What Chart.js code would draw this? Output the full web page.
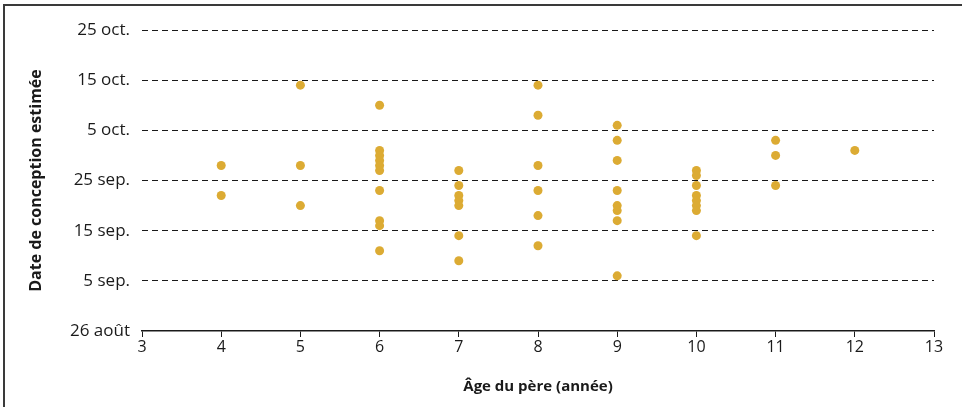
<!DOCTYPE html>
<html>
<head>
<meta charset="utf-8">
<script src="https://cdn.jsdelivr.net/npm/chart.js@4/dist/chart.umd.min.js"></script>
<style>
  html, body { margin: 0; padding: 0; background: #fff; }
  #wrap { position: relative; width: 970px; height: 407px; overflow: hidden; }
  #frame {
    position: absolute; left: 3px; top: 4px; width: 957px; height: 420px;
    border-top: 2px solid #3a3a3a; border-left: 2px solid #3a3a3a;
    pointer-events: none;
  }
  canvas { position: absolute; left: 0; top: 0; }
</style>
</head>
<body>
<div id="wrap">
  <canvas id="chart" width="970" height="407"></canvas>
  <div id="frame"></div>
</div>
<script>
// Day 0 = 26 août, one unit per day
const yTickLabels = ['26 août', '5 sep.', '15 sep.', '25 sep.', '5 oct.', '15 oct.', '25 oct.'];

const fatherAge = [
    4, 4,
    5, 5, 5,
    6, 6, 6, 6, 6, 6, 6, 6, 6, 6,
    7, 7, 7, 7, 7, 7, 7,
    8, 8, 8, 8, 8, 8,
    9, 9, 9, 9, 9, 9, 9, 9,
    10, 10, 10, 10, 10, 10, 10, 10,
    11, 11, 11,
    12
];
const conceptionDay = [
    33, 27,
    49, 33, 25,
    45, 36, 35, 34, 33, 32, 28, 22, 21, 16,
    32, 29, 27, 26, 25, 19, 14,
    49, 43, 33, 28, 23, 17,
    41, 38, 34, 28, 25, 24, 22, 11,
    32, 31, 29, 27, 26, 25, 24, 19,
    38, 35, 29,
    36
];

const points = fatherAge.map((age, i) => ({ x: age, y: conceptionDay[i] }));

const family = '"Open Sans", "Noto Sans", sans-serif';
const ink = '#1a1a1a';

new Chart(document.getElementById('chart').getContext('2d'), {
    type: 'scatter',
    data: {
        datasets: [{
            data: points,
            backgroundColor: '#DCAB33',
            borderWidth: 0,
            pointRadius: 4.5,
            pointHoverRadius: 4.5
        }]
    },
    options: {
        responsive: false,
        animation: false,
        layout: { padding: { left: 0, right: 36, top: 30, bottom: 0 } },
        plugins: { legend: { display: false }, tooltip: { enabled: false } },
        scales: {
            x: {
                type: 'linear',
                min: 3,
                max: 13,
                afterFit: scale => { scale.height = 76; },
                ticks: { stepSize: 1, color: ink, font: { family: family, size: 16 }, padding: 1 },
                grid: { drawOnChartArea: false, drawTicks: true, tickLength: 6, color: ink, lineWidth: 1 },
                border: { display: true, color: ink, width: 1.5 },
                title: {
                    display: true,
                    text: 'Âge du père (année)',
                    color: ink,
                    font: { family: family, size: 15, weight: 'bold' },
                    padding: { top: 4, bottom: 11 }
                }
            },
            y: {
                type: 'linear',
                min: 0,
                max: 60,
                afterFit: scale => { scale.width = 142; },
                ticks: {
                    stepSize: 10,
                    color: ink,
                    font: { family: family, size: 17 },
                    padding: 12,
                    callback: v => yTickLabels[v / 10]
                },
                grid: {
                    drawTicks: false,
                    color: ctx => ctx.tick && ctx.tick.value === 0 ? 'rgba(0,0,0,0)' : ink,
                    lineWidth: 1
                },
                border: { display: false, dash: [6, 4] },
                title: {
                    display: true,
                    text: 'Date de conception estimée',
                    color: ink,
                    font: { family: family, size: 16, weight: 'bold' },
                    padding: { top: 27, bottom: 0 }
                }
            }
        }
    }
});
</script>
</body>
</html>
